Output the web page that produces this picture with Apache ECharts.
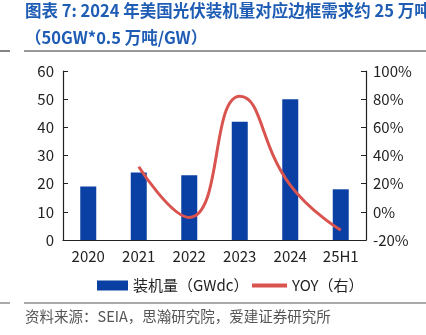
<!DOCTYPE html>
<html><head><meta charset="utf-8">
<script src="https://cdn.jsdelivr.net/npm/echarts@6/dist/echarts.min.js"></script>
<style>html,body{margin:0;padding:0;background:#fff}#c{width:426px;height:335px}</style>
</head><body><div id="c"></div>
<script>
const categories = ['2020','2021','2022','2023','2024','25H1'];
const installs = [19, 24, 23, 42, 50, 18];
const yoy = [null, 32, -4, 82, 19, -13];
const leftTicks = [0, 60, 10];
const rightTicks = [-20, 100, 20];
const titleLine1 = '图表 7: 2024 年美国光伏装机量对应边框需求约 25 万吨';
const titleLine2 = '（50GW*0.5 万吨/GW）';
const sourceText = '资料来源：SEIA，思瀚研究院，爱建证券研究所';

const FONT = '"Noto Sans CJK SC", "Noto Sans", sans-serif';
const chart = echarts.init(document.getElementById('c'), null, {renderer: 'canvas'});
chart.setOption({
  animation: false,
  textStyle: {fontFamily: FONT},
  grid: {left: 63, right: 60, top: 71, bottom: 95},
  graphic: [
    {type: 'text', left: 25, top: 2, style: {text: titleLine1, font: 'bold 16.5px ' + FONT, fill: '#1f5db5'}},
    {type: 'text', left: 25, top: 29, style: {text: titleLine2, font: 'bold 16.5px ' + FONT, fill: '#1f5db5'}},
    {type: 'line', shape: {x1: 0, y1: 51, x2: 10, y2: 51}, style: {stroke: '#333', lineWidth: 1.2}},
    {type: 'line', shape: {x1: 24, y1: 51, x2: 426, y2: 51}, style: {stroke: '#333', lineWidth: 1.2}},
    {type: 'line', shape: {x1: 0, y1: 303, x2: 10, y2: 303}, style: {stroke: '#555', lineWidth: 1}},
    {type: 'line', shape: {x1: 24, y1: 303, x2: 426, y2: 303}, style: {stroke: '#555', lineWidth: 1}},
    {type: 'text', left: 25, top: 309, style: {text: sourceText, font: '14.5px ' + FONT, fill: '#555'}}
  ],
  legend: [
    {left: 92, top: 273, itemWidth: 31, itemHeight: 10,
     textStyle: {fontSize: 15, color: '#222', fontFamily: FONT},
     data: [{name: '装机量（GWdc）', icon: 'rect'}]},
    {left: 247, top: 273, itemWidth: 35, itemHeight: 4, icon: 'rect',
     textStyle: {fontSize: 15, color: '#222', fontFamily: FONT},
     data: [{name: 'YOY（右）', icon: 'rect'}]}
  ],
  xAxis: {
    type: 'category', data: categories,
    axisLine: {lineStyle: {color: '#222', width: 1.2}},
    axisTick: {inside: true, length: 5, lineStyle: {color: '#222'}},
    axisLabel: {fontSize: 15, color: '#222', margin: 9}
  },
  yAxis: [
    {type: 'value', min: leftTicks[0], max: leftTicks[1], interval: leftTicks[2],
     axisLine: {show: true, lineStyle: {color: '#222', width: 1.2}},
     axisTick: {show: true, inside: true, length: 5, lineStyle: {color: '#222'}},
     splitLine: {show: false},
     axisLabel: {fontSize: 15, color: '#222', margin: 9}},
    {type: 'value', min: rightTicks[0], max: rightTicks[1], interval: rightTicks[2],
     axisLine: {show: true, lineStyle: {color: '#222', width: 1.2}},
     axisTick: {show: true, inside: true, length: 5, lineStyle: {color: '#222'}},
     splitLine: {show: false},
     axisLabel: {fontSize: 15, color: '#222', margin: 7, formatter: '{value}%'}}
  ],
  series: [
    {name: '装机量（GWdc）', type: 'bar', data: installs, barWidth: 16,
     itemStyle: {color: '#0a3fa3'}},
    {name: 'YOY（右）', type: 'line', yAxisIndex: 1, data: yoy, smooth: 0.5,
     showSymbol: false, symbol: 'none', connectNulls: false,
     lineStyle: {color: '#d9534f', width: 3}, itemStyle: {color: '#d9534f'}}
  ]
});
</script></body></html>
